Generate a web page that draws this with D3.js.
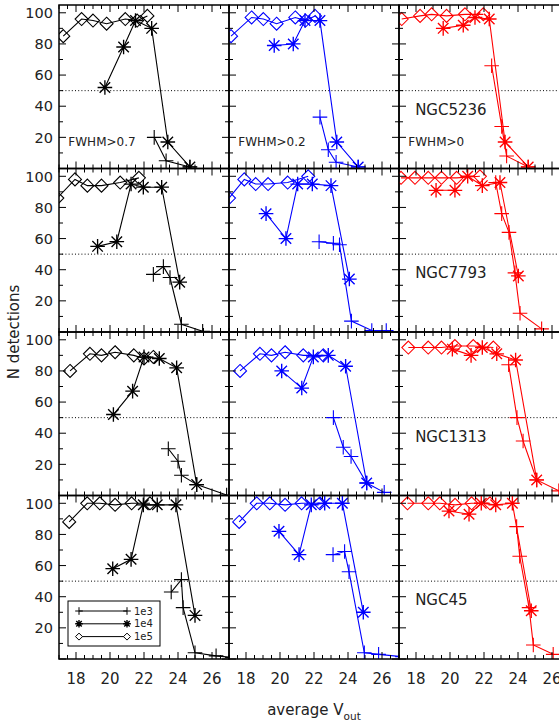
<!DOCTYPE html>
<html><head><meta charset="utf-8">
<script src="https://cdn.jsdelivr.net/npm/d3@7"></script>
<style>body{margin:0;background:#fff;overflow:hidden} svg{display:block}</style>
</head><body>
<script>
// ---------------- data ----------------
const galaxies = ["NGC5236", "NGC7793", "NGC1313", "NGC45"];
const fwhmLabels = ["FWHM>0.7", "FWHM>0.2", "FWHM>0"];
const columnColors = ["#000000", "#0000ff", "#ff0000"];
const seriesNames = ["1e3", "1e4", "1e5"];
const xTickValues = [18, 20, 22, 24, 26];
const yTickValues = [20, 40, 60, 80, 100];

// [average V_out, N detections]; one list per FWHM column (0.7, 0.2, 0)
const NGC5236_1e3 = [
  [[22.6,20],[23.3,5],[24.7,1]],
  [[22.35,33],[22.84,12],[23.3,4],[24.6,1]],
  [[22.45,66],[23.04,27],[23.33,8],[24.6,1]]
];
const NGC5236_1e4 = [
  [[19.7,52],[20.8,78],[21.5,95],[22.45,90],[23.4,17],[24.7,1]],
  [[19.66,79],[20.78,80],[21.47,95],[22.35,95],[23.34,17],[24.6,1]],
  [[19.6,90],[20.78,92],[21.47,97],[22.31,96],[23.24,17],[24.6,1]]
];
const NGC5236_1e5 = [
  [[17.25,85],[18.33,96],[19.0,95],[19.8,93],[20.9,96],[21.6,95],[22.2,98]],
  [[17.12,85],[18.33,97],[19.02,96],[19.8,93],[20.9,97],[21.5,95],[22.06,98]],
  [[17.16,96],[18.24,98],[18.92,99],[19.8,98],[20.88,99],[21.96,99]]
];

const NGC7793_1e3 = [
  [[22.55,37],[23.14,42],[23.53,35],[24.2,5],[25.45,0.5]],
  [[22.3,58],[23.14,57],[23.5,56],[24.2,7],[25.4,1],[26.25,1]],
  [[22.69,96],[23.04,76],[23.47,64],[23.82,38],[24.12,12],[25.39,2]]
];
const NGC7793_1e4 = [
  [[19.27,55],[20.4,58],[21.24,95],[21.96,93],[23.04,93],[24.1,32]],
  [[19.18,76],[20.35,60],[21.04,95],[21.9,95],[23.0,94],[24.08,34]],
  [[19.18,91],[20.29,91],[21.04,100],[21.9,94],[22.94,96],[24.02,36]]
];
const NGC7793_1e5 = [
  [[16.9,86],[17.94,98],[18.67,94],[19.5,94],[20.6,96],[21.7,99]],
  [[17.0,86],[17.9,98],[18.57,95],[19.3,95],[20.45,96],[21.66,100]],
  [[17.12,99],[17.94,99],[18.72,99],[19.5,99],[20.39,99],[21.76,100]]
];

const NGC1313_1e3 = [
  [[23.43,30],[24.0,22],[24.2,13],[25.1,7],[26.86,0.3]],
  [[23.14,50],[23.72,31],[24.18,25],[25.1,8],[26.13,2]],
  [[23.45,84],[23.94,50],[24.3,35],[25.1,10],[26.4,3]]
];
const NGC1313_1e4 = [
  [[20.2,52],[21.33,67],[22.0,89],[22.9,88],[23.92,82],[25.1,7]],
  [[20.1,80],[21.28,69],[21.96,89],[22.84,90],[23.86,83],[25.1,8]],
  [[20.14,94],[21.24,90],[21.9,95],[22.75,91],[23.86,87],[25.1,10]]
];
const NGC1313_1e5 = [
  [[17.65,80],[18.82,91],[19.5,90],[20.3,92],[21.4,90],[22.0,88],[22.55,89]],
  [[17.65,80],[18.82,91],[19.5,90],[20.3,92],[21.37,90],[22.55,90]],
  [[17.55,95],[18.72,95],[19.5,95],[20.29,96],[21.37,96],[22.55,95]]
];

const NGC45_1e3 = [
  [[23.6,43],[24.2,51],[24.3,33],[25.0,4],[26.24,2],[27.2,1]],
  [[23.12,67],[23.8,69],[24.06,56],[24.96,4],[25.8,3],[27.2,1.5]],
  [[23.92,85],[24.1,66],[24.65,33],[24.9,9],[26.07,3]]
];
const NGC45_1e4 = [
  [[20.16,58],[21.24,64],[21.96,99],[22.78,99],[23.88,99],[25.0,28]],
  [[19.94,82],[21.12,67],[21.84,99],[22.63,100],[23.67,100],[24.9,30]],
  [[19.94,95],[21.12,93],[21.84,100],[22.69,99],[23.67,100],[24.78,31]]
];
const NGC45_1e5 = [
  [[17.6,88],[18.66,100],[19.4,100],[20.3,99],[21.27,100],[22.35,100]],
  [[17.6,88],[18.63,100],[19.4,100],[20.3,99],[21.27,100],[22.35,100]],
  [[17.5,100],[18.72,100],[19.4,100],[20.3,99],[21.27,100],[22.35,100]]
];

const rows = [
  [NGC5236_1e3, NGC5236_1e4, NGC5236_1e5],
  [NGC7793_1e3, NGC7793_1e4, NGC7793_1e5],
  [NGC1313_1e3, NGC1313_1e4, NGC1313_1e5],
  [NGC45_1e3, NGC45_1e4, NGC45_1e5]
];

// ---------------- layout ----------------
const W = 559, H = 725;
const plotLeft = 59, plotTop = 5, panelW = 170, panelH = 163.5;
const fontFam = "'DejaVu Sans', Verdana, sans-serif";
const textCol = "#222";

const svg = d3.select("body").append("svg").attr("width", W).attr("height", H);

const x = d3.scaleLinear().domain([17, 27]).range([0, panelW]);
const y = d3.scaleLinear().domain([0, 105]).range([panelH, 0]);

function markerPath(type, s) {
  if (type === 0) { // plus
    return `M${-s},0H${s}M0,${-s}V${s}`;
  } else if (type === 1) { // asterisk
    const d = s * 0.72;
    return `M${-s},0H${s}M0,${-s}V${s}M${-d},${-d}L${d},${d}M${-d},${d}L${d},${-d}`;
  } else { // diamond
    return `M0,${-s}L${s},0L0,${s}L${-s},0Z`;
  }
}

const defs = svg.append("defs");

rows.forEach((rowSeries, r) => {
  for (let c = 0; c < 3; c++) {
    const g = svg.append("g").attr("transform", `translate(${plotLeft + c * panelW},${plotTop + r * panelH})`);
    const col = columnColors[c];
    const clipId = `clip-${r}-${c}`;
    defs.append("clipPath").attr("id", clipId).append("rect")
      .attr("x", 0).attr("y", 0).attr("width", panelW).attr("height", panelH);

    g.append("line").attr("x1", 0).attr("x2", panelW).attr("y1", y(50)).attr("y2", y(50))
      .attr("stroke", "#000").attr("stroke-width", 1).attr("stroke-dasharray", "1,2.2");

    const plot = g.append("g").attr("clip-path", `url(#${clipId})`);
    const line = d3.line().x(d => x(d[0])).y(d => y(d[1]));
    [2, 1, 0].forEach(si => {
      const data = rowSeries[si][c];
      plot.append("path").attr("d", line(data)).attr("fill", "none")
        .attr("stroke", col).attr("stroke-width", 1.1);
      plot.selectAll(null).data(data).enter().append("path")
        .attr("transform", d => `translate(${x(d[0])},${y(d[1])})`)
        .attr("d", markerPath(si, si === 2 ? 6.5 : 7.3))
        .attr("fill", "none").attr("stroke", col).attr("stroke-width", si === 1 ? 1.35 : 1.1);
    });

    const tk = g.append("g").attr("stroke", "#000").attr("stroke-width", 1);
    for (let k = 0; k <= 20; k++) {
      const v = 17 + k * 0.5;
      const major = k % 4 === 2;
      const L = major ? 7 : 4;
      tk.append("line").attr("x1", x(v)).attr("x2", x(v)).attr("y1", panelH).attr("y2", panelH - L);
      tk.append("line").attr("x1", x(v)).attr("x2", x(v)).attr("y1", 0).attr("y2", L);
    }
    for (let v = 0; v <= 105; v += 10) {
      const major = v % 20 === 0;
      const L = major ? 7 : 4;
      tk.append("line").attr("x1", 0).attr("x2", L).attr("y1", y(v)).attr("y2", y(v));
      tk.append("line").attr("x1", panelW).attr("x2", panelW - L).attr("y1", y(v)).attr("y2", y(v));
    }

    g.append("rect").attr("x", 0).attr("y", 0).attr("width", panelW).attr("height", panelH)
      .attr("fill", "none").attr("stroke", "#000").attr("stroke-width", 1.5);

    if (c === 0) {
      g.selectAll(null).data(yTickValues).enter().append("text")
        .attr("x", -6).attr("y", d => y(d)).attr("dy", "0.36em")
        .attr("text-anchor", "end").attr("font-family", fontFam).attr("font-size", 14.5)
        .attr("fill", textCol).text(d => d);
    }
    if (r === 3) {
      g.selectAll(null).data(xTickValues).enter().append("text")
        .attr("x", d => x(d)).attr("y", panelH + 25)
        .attr("text-anchor", "middle").attr("font-family", fontFam).attr("font-size", 15)
        .attr("fill", textCol).text(d => d);
    }
    if (r === 0) {
      g.append("text").attr("x", x(17.55)).attr("y", y(17)).attr("dy", "0.36em")
        .attr("font-family", fontFam).attr("font-size", 12).attr("fill", textCol)
        .text(fwhmLabels[c]);
    }
    if (c === 2) {
      g.append("text").attr("x", x(17.95)).attr("y", y(38)).attr("dy", "0.36em")
        .attr("font-family", fontFam).attr("font-size", 15).attr("fill", textCol)
        .text(galaxies[r]);
    }
    if (r === 3 && c === 0) {
      const lg = g.append("g").attr("transform", `translate(${68 - plotLeft},${601 - (plotTop + 3 * panelH)})`);
      lg.append("rect").attr("width", 92).attr("height", 45).attr("fill", "#fff")
        .attr("stroke", "#000").attr("stroke-width", 1);
      seriesNames.forEach((name, i) => {
        const yy = 10 + i * 12.8;
        lg.append("line").attr("x1", 11).attr("x2", 59).attr("y1", yy).attr("y2", yy)
          .attr("stroke", "#000").attr("stroke-width", 1);
        [11, 59].forEach(xx => {
          lg.append("path").attr("transform", `translate(${xx},${yy})`)
            .attr("d", markerPath(i, i === 2 ? 3.5 : 3.8))
            .attr("fill", i === 2 ? "#fff" : "none").attr("stroke", "#000")
            .attr("stroke-width", i === 1 ? 1.4 : 1);
        });
        lg.append("text").attr("x", 66).attr("y", yy).attr("dy", "0.36em")
          .attr("font-family", fontFam).attr("font-size", 10).attr("fill", textCol).text(name);
      });
    }
  }
});

const plotRight = plotLeft + 3 * panelW;
const xt = svg.append("text").attr("x", (plotLeft + plotRight) / 2).attr("y", 715)
  .attr("text-anchor", "middle").attr("font-family", fontFam).attr("font-size", 15).attr("fill", textCol);
xt.append("tspan").text("average V");
xt.append("tspan").attr("dy", 5).attr("font-size", 10.5).text("out");

svg.append("text").attr("transform", `translate(19,${plotTop + 2 * panelH}) rotate(-90)`)
  .attr("text-anchor", "middle").attr("font-family", fontFam).attr("font-size", 15)
  .attr("fill", textCol).text("N detections");
</script>
</body></html>
